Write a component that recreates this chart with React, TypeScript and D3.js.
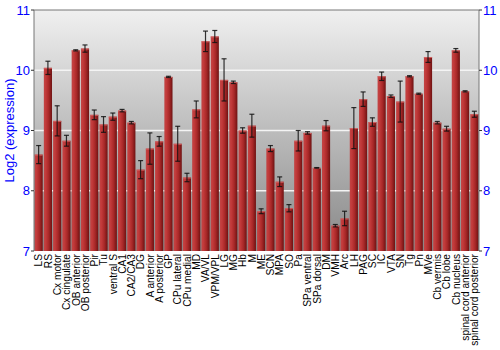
import React from "react";
import * as d3 from "d3";

const categories = ["LS","RS","Cx motor","Cx cingulate","OB anterior","OB posterior","Pir","Tu","ventral S","CA1","CA2/CA3","DG","A anterior","A posterior","GP","CPu lateral","CPu medial","MD","VA/VL","VPM/VPL","LG","MG","Hb","M","ME","SCN","MPA","SO","Pa","SPa ventral","SPa dorsal","DM","VMH","Arc","LH","PAG","SC","IC","VTA","SN","Tg","Pn","MVe","Cb vermis","Cb lobe","Cb nucleus","spinal cord anterior","spinal cord posterior"];
const values = [8.60,10.04,9.16,8.83,10.33,10.36,9.26,9.10,9.23,9.33,9.13,8.35,8.70,8.82,9.89,8.78,8.22,9.35,10.48,10.56,9.84,9.80,9.00,9.08,7.66,8.70,8.15,7.71,8.83,8.96,8.38,9.08,7.42,7.54,9.04,9.52,9.14,9.90,9.57,9.48,9.90,9.61,10.22,9.13,9.03,10.33,9.65,9.27];
const errors = [0.15,0.11,0.25,0.09,0.01,0.06,0.08,0.13,0.06,0.02,0.02,0.15,0.26,0.08,0.01,0.29,0.07,0.14,0.17,0.10,0.35,0.02,0.045,0.19,0.04,0.05,0.08,0.06,0.17,0.02,0.005,0.085,0.02,0.12,0.34,0.12,0.07,0.07,0.02,0.34,0.01,0.01,0.09,0.02,0.04,0.03,0.01,0.05];
const yTicks = [7, 8, 9, 10, 11];
const yLabel = "Log2 (expression)";

export default function App() {
  const W = 500, H = 350;
  const left = 34, right = 479, top = 10, bottom = 251;
  const x = d3.scaleBand<string>().domain(categories).range([left, right]).paddingInner(0.12).paddingOuter(0.06);
  const y = d3.scaleLinear().domain([7, 11]).range([bottom, top]);
  const font = "'Liberation Sans', Arial, sans-serif";
  return (
    <svg width={W} height={H} style={{ position: "absolute", left: 0, top: 0, background: "#fff" }}>
      <defs>
        <linearGradient id="bg" x1="0" y1="0" x2="0" y2="1">
          <stop offset="0%" stopColor="#f0f0f0" />
          <stop offset="100%" stopColor="#888888" />
        </linearGradient>
        <linearGradient id="bar" x1="0" y1="0" x2="1" y2="0">
          <stop offset="0%" stopColor="#c24545" />
          <stop offset="25%" stopColor="#c23a3a" />
          <stop offset="60%" stopColor="#a82828" />
          <stop offset="100%" stopColor="#6e1212" />
        </linearGradient>
      </defs>
      <rect x={left} y={top} width={right - left} height={bottom - top} fill="url(#bg)" />
      {yTicks.filter(t => t > 7 && t < 11).map(t => (
        <line key={t} x1={left} x2={right} y1={y(t)} y2={y(t)} stroke="#f4f4f4" strokeWidth={1.5} />
      ))}
      {categories.map((c, i) => {
        const bx = x(c)!;
        const bw = x.bandwidth();
        const cx = bx + bw / 2;
        const v = values[i], e = errors[i];
        return (
          <g key={c}>
            <rect x={bx} y={y(v)} width={bw} height={y(7) - y(v)} fill="url(#bar)" />
            <line x1={bx} x2={bx + bw} y1={y(v) + 0.5} y2={y(v) + 0.5} stroke="#d26060" strokeWidth={1} />
            <line x1={cx} x2={cx} y1={y(v + e)} y2={y(v - e)} stroke="#111" strokeOpacity={0.85} strokeWidth={1.2} />
            <line x1={cx - 2.5} x2={cx + 2.5} y1={y(v + e)} y2={y(v + e)} stroke="#111" strokeOpacity={0.85} strokeWidth={1.2} />
            <line x1={cx - 2.5} x2={cx + 2.5} y1={y(v - e)} y2={y(v - e)} stroke="#111" strokeOpacity={0.85} strokeWidth={1.2} />
            <text transform={`translate(${cx + 3.8},${bottom + 3}) rotate(-90)`} textAnchor="end" fontFamily={font} fontSize={10.2} fill="#000">{c}</text>
          </g>
        );
      })}
      <line x1={left} x2={right} y1={top} y2={top} stroke="#777" strokeWidth={1} />
      <line x1={left} x2={left} y1={top} y2={bottom} stroke="#777" strokeWidth={1} />
      <line x1={right} x2={right} y1={top} y2={bottom} stroke="#777" strokeWidth={1} />
      {yTicks.map(t => (
        <g key={t}>
          <line x1={left - 3} x2={left} y1={y(t)} y2={y(t)} stroke="#333" />
          <line x1={right} x2={right + 3} y1={y(t)} y2={y(t)} stroke="#333" />
          <text x={left - 4} y={y(t) + 4.5} textAnchor="end" fontFamily={font} fontSize={13} fill="#0000ff">{t}</text>
          <text x={right + 4} y={y(t) + 4.5} textAnchor="start" fontFamily={font} fontSize={13} fill="#0000ff">{t}</text>
        </g>
      ))}
      <text transform={`translate(14,${(top + bottom) / 2}) rotate(-90)`} textAnchor="middle" fontFamily={font} fontSize={13} fill="#0000ff">{yLabel}</text>
    </svg>
  );
}
